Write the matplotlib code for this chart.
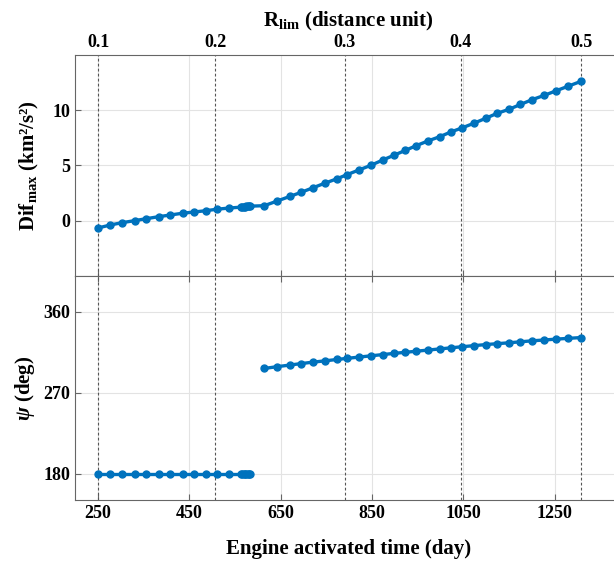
import numpy as np
import matplotlib.pyplot as plt

plt.rcParams['font.family'] = 'Liberation Serif'
plt.rcParams['font.weight'] = 'bold'
plt.rcParams['axes.labelweight'] = 'bold'
plt.rcParams['mathtext.fontset'] = 'custom'
plt.rcParams['mathtext.rm'] = 'Liberation Serif:bold'
plt.rcParams['mathtext.bf'] = 'Liberation Serif:bold'
plt.rcParams['mathtext.it'] = 'Liberation Serif:italic:bold'

# engine activated time (day) for each run
t_a = [250, 277, 303, 330, 356, 383, 408, 435, 460, 486, 510, 537, 563,
       566, 569, 572, 575, 578, 581, 583]
t_b = [614, 642, 670, 694, 720, 747, 773, 796, 822, 848, 874, 898, 923, 947,
       973, 999, 1023, 1047, 1073, 1099, 1124, 1150, 1175, 1201, 1227, 1254,
       1279, 1307]

# Dif_max (km^2/s^2)
dif_a = [-0.66, -0.39, -0.18, 0.0, 0.18, 0.36, 0.51, 0.67, 0.78, 0.90, 1.03,
         1.14, 1.22, 1.24, 1.26, 1.27, 1.28, 1.29, 1.30, 1.31]
dif_b = [1.35, 1.77, 2.19, 2.55, 2.96, 3.39, 3.78, 4.17, 4.59, 5.01, 5.49,
         5.91, 6.35, 6.78, 7.21, 7.6, 8.02, 8.38, 8.8, 9.25, 9.7, 10.06, 10.5,
         10.94, 11.32, 11.75, 12.14, 12.58]

# psi (deg)
psi_a = [180] * len(t_a)
psi_b = [297.0, 299.0, 300.8, 302.4, 304.0, 305.5, 307.0, 308.3, 309.7,
         311.1, 312.5, 313.8, 315.0, 316.2, 317.5, 318.8, 320.0, 321.2, 322.4,
         323.6, 324.6, 325.6, 326.7, 327.8, 328.7, 329.7, 330.5, 331.4]

# R_lim values and where they fall on the time axis
r_lim = [0.1, 0.2, 0.3, 0.4, 0.5]
r_days = [250, 507, 790, 1044, 1308]

x_ticks = [250, 450, 650, 850, 1050, 1250]
blue = '#0072BD'
spine_c = '#666666'

fig = plt.figure(figsize=(6.14, 5.69), dpi=100)
ax1 = fig.add_axes([0.1226, 0.515, 0.89, 0.3889])
ax2 = fig.add_axes([0.1226, 0.1204, 0.89, 0.3946])

for ax in (ax1, ax2):
    ax.set_xlim(200, 1397)
    ax.set_xticks(x_ticks)
    ax.grid(True, color='#e3e3e3', lw=0.8)
    ax.set_axisbelow(True)
    for d in r_days:
        ax.axvline(d, color='#555555', lw=0.8, ls=(0, (2.5, 2)), zorder=1)
    for s in ax.spines.values():
        s.set_color(spine_c)
    ax.tick_params(direction='in', length=4, color=spine_c, labelsize=13,
                   top=True, right=False)

ax1.plot(t_a + t_b, dif_a + dif_b, '-o', color=blue, lw=2.4, ms=5, zorder=3)
ax1.set_ylim(-5, 15)
ax1.set_yticks([0, 5, 10])
ax1.tick_params(labelbottom=False)
ax1.set_ylabel(r'Dif$_{\mathbf{max}}$ (km²/s²)', fontsize=15, labelpad=8)

ax2.plot(t_a, psi_a, '-o', color=blue, lw=2.4, ms=5, zorder=3)
ax2.plot(t_b, psi_b, '-o', color=blue, lw=2.4, ms=5, zorder=3)
ax2.set_ylim(150, 400)
ax2.set_yticks([180, 270, 360])
ax2.set_ylabel(r'$\psi$ (deg)', fontsize=15, labelpad=5)
ax2.set_xlabel('Engine activated time (day)', fontsize=15, labelpad=12)

axt = ax1.twiny()
axt.set_xlim(ax1.get_xlim())
axt.set_xticks(r_days)
axt.set_xticklabels([f'{r:.1f}' for r in r_lim])
axt.tick_params(direction='in', length=0, labelsize=13, pad=3)
for s in axt.spines.values():
    s.set_visible(False)
axt.set_xlabel(r'R$_{\mathbf{lim}}$ (distance unit)', fontsize=15, labelpad=5)

fig.savefig('out.png', dpi=100)
